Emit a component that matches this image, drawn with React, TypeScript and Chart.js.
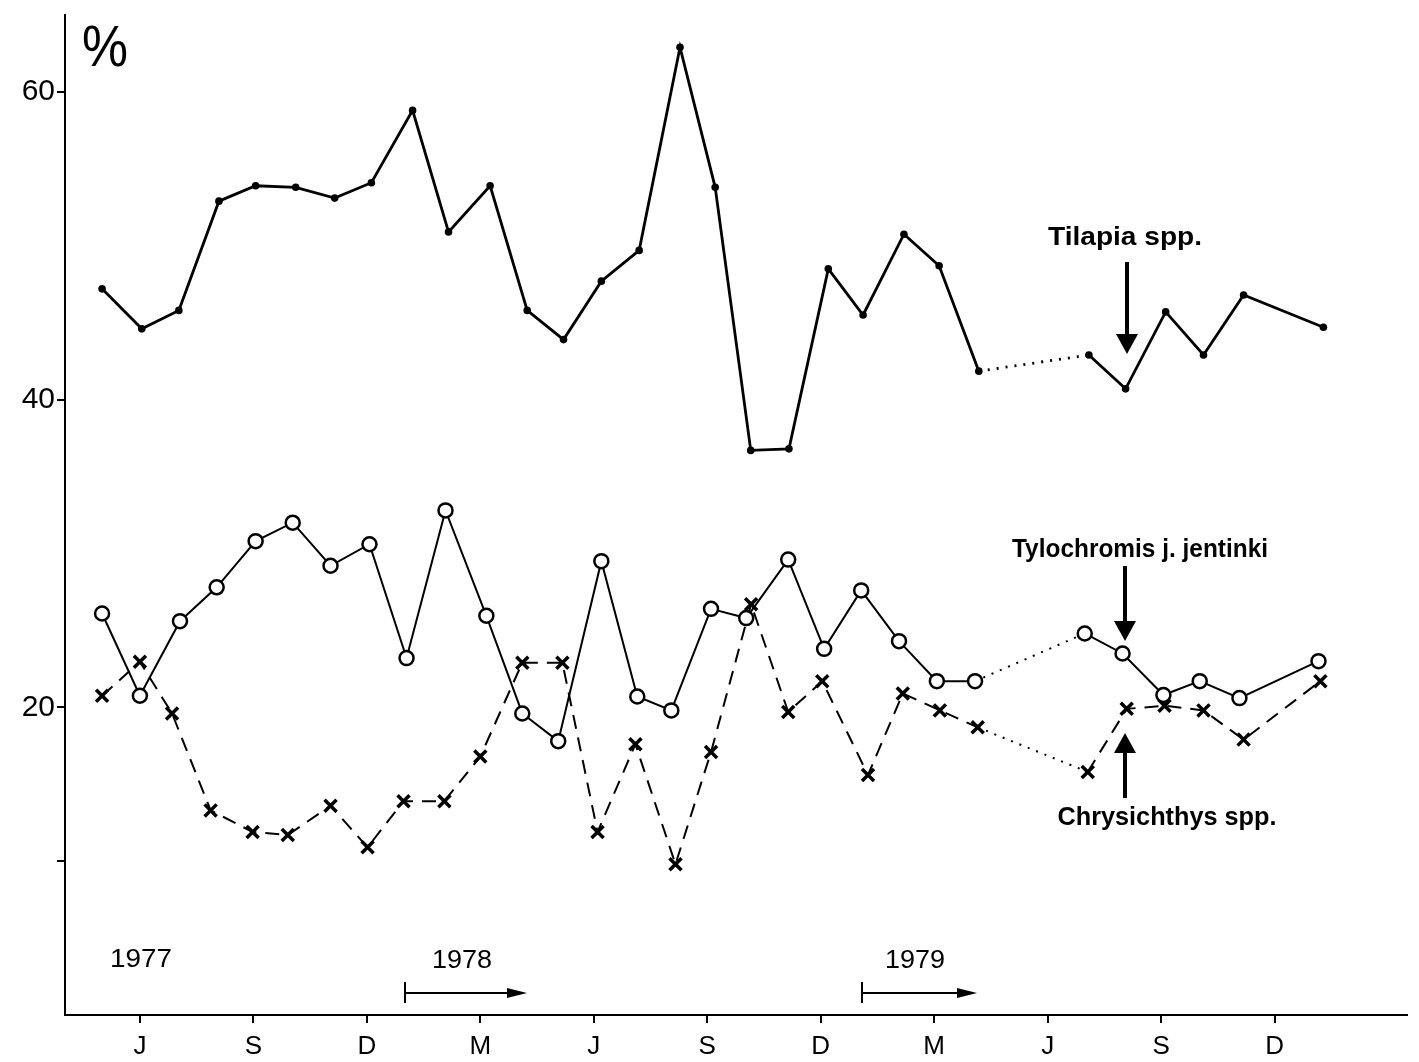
import React, { useEffect, useRef } from "react";
import { Chart, registerables } from "chart.js";

Chart.register(...registerables);

// x values are months counted from July 1977 (0 = July 1977)
const monthTicks = [0, 3, 6, 9, 12, 15, 18, 21, 24, 27, 30];
const monthLabels = ["J", "S", "D", "M", "J", "S", "D", "M", "J", "S", "D"];
const yTickValues = [10, 20, 40, 60];
const yTickLabels = ["", "20", "40", "60"];

const tilapiaX = [-1.0, 0.05, 1.03, 2.09, 3.06, 4.12, 5.15, 6.12, 7.21, 8.16, 9.26, 10.24, 11.2, 12.2, 13.2, 14.28, 15.21, 16.15, 17.16, 18.2, 19.12, 20.2, 21.13, 22.18, 25.09, 26.06, 27.12, 28.12, 29.18, 31.29];
const tilapiaY = [47.2, 44.6, 45.8, 52.9, 53.9, 53.8, 53.1, 54.1, 58.8, 50.9, 53.9, 45.8, 43.9, 47.7, 49.7, 62.9, 53.8, 36.7, 36.8, 48.5, 45.5, 50.75, 48.7, 41.85, 42.9, 40.7, 45.7, 42.9, 46.8, 44.7];

const tyloX = [-1.0, 0, 1.06, 2.03, 3.06, 4.04, 5.04, 6.07, 7.05, 8.08, 9.16, 10.11, 11.06, 12.2, 13.15, 14.05, 15.1, 16.03, 17.14, 18.09, 19.07, 20.07, 21.07, 22.08, 24.98, 25.98, 27.06, 28.02, 29.07, 31.16];
const tyloY = [26.1, 20.75, 25.6, 27.8, 30.8, 32.0, 29.2, 30.6, 23.2, 32.8, 25.95, 19.6, 17.8, 29.5, 20.7, 19.8, 26.4, 25.8, 29.6, 23.8, 27.6, 24.3, 21.7, 21.7, 24.8, 23.5, 20.8, 21.7, 20.6, 23.0];

const chrysX = [-1.0, 0, 0.85, 1.87, 2.98, 3.91, 5.04, 6.02, 6.97, 8.05, 9.0, 10.11, 11.17, 12.1, 13.1, 14.16, 15.1, 16.16, 17.14, 18.04, 19.25, 20.17, 21.15, 22.15, 25.06, 26.09, 27.09, 28.12, 29.18, 31.21];
const chrysY = [20.75, 22.96, 19.6, 13.3, 11.9, 11.7, 13.6, 10.9, 13.9, 13.9, 16.8, 22.9, 22.9, 11.9, 17.6, 9.8, 17.1, 26.7, 19.7, 21.7, 15.6, 20.9, 19.8, 18.7, 15.8, 19.9, 20.1, 19.8, 17.9, 21.7];

// index of the last point before the missing months (joined by a dotted line)
const gapIndex = 23;

const yearLabels = ["1977", "1978", "1979"];
const seriesNames = ["Tilapia spp.", "Tylochromis j. jentinki", "Chrysichthys spp."];

const FONT = "'Liberation Sans', 'DejaVu Sans', sans-serif";

const pts = (xs: number[], ys: number[]) => xs.map((x, i) => ({ x, y: ys[i] }));

export default function App() {
  const ref = useRef<HTMLCanvasElement>(null);

  useEffect(() => {
    document.body.style.margin = "0";
    const canvas = ref.current!;
    const ctx2 = canvas.getContext("2d")!;

    const fitText = (c: CanvasRenderingContext2D, text: string, cx: number, cy: number, w: number) => {
      const m = c.measureText(text).width;
      c.save();
      c.translate(cx, cy);
      c.scale(w / m, 1);
      c.fillText(text, 0, 0);
      c.restore();
    };

    const yearArrow = (c: CanvasRenderingContext2D, x0: number, x1: number, y: number) => {
      c.lineWidth = 2;
      c.beginPath();
      c.moveTo(x0, y - 11);
      c.lineTo(x0, y + 10);
      c.moveTo(x0, y);
      c.lineTo(x1 - 14, y);
      c.stroke();
      c.beginPath();
      c.moveTo(x1, y);
      c.lineTo(x1 - 20, y - 5);
      c.lineTo(x1 - 20, y + 5);
      c.closePath();
      c.fill();
    };

    const bigArrow = (c: CanvasRenderingContext2D, x: number, yStart: number, yTip: number) => {
      const dir = yTip > yStart ? 1 : -1;
      const headLen = 20;
      c.lineWidth = 4;
      c.beginPath();
      c.moveTo(x, yStart);
      c.lineTo(x, yTip - dir * headLen);
      c.stroke();
      c.beginPath();
      c.moveTo(x, yTip);
      c.lineTo(x - 11, yTip - dir * headLen);
      c.lineTo(x + 11, yTip - dir * headLen);
      c.closePath();
      c.fill();
    };

    const annot = {
      id: "annot",
      afterDraw(chart: any) {
        const c: CanvasRenderingContext2D = chart.ctx;
        c.save();
        c.fillStyle = "#000";
        c.strokeStyle = "#000";
        c.textAlign = "center";
        c.textBaseline = "middle";
        c.font = `58px ${FONT}`;
        fitText(c, "%", 105, 50, 46);

        c.font = `26px ${FONT}`;
        fitText(c, yearLabels[0], 141, 960, 62);
        fitText(c, yearLabels[1], 462, 961, 60);
        fitText(c, yearLabels[2], 915, 961, 60);
        yearArrow(c, 405, 527, 993);
        yearArrow(c, 862, 977, 993);

        c.font = `bold 25px ${FONT}`;
        fitText(c, seriesNames[0], 1125, 238, 154);
        fitText(c, seriesNames[1], 1140, 550, 256);
        fitText(c, seriesNames[2], 1167, 818, 219);

        bigArrow(c, 1127, 262, 354);
        bigArrow(c, 1125, 566, 641);
        bigArrow(c, 1125, 798, 733);
        c.restore();
      },
    };

    const dottedGap = (dash: number[] | undefined) => (s: any) =>
      s.p0DataIndex === gapIndex ? [2, 7] : dash;

    const chart = new Chart(ctx2, {
      type: "line",
      data: {
        datasets: [
          {
            label: seriesNames[0],
            data: pts(tilapiaX, tilapiaY),
            borderColor: "#000",
            borderWidth: 2.8,
            pointRadius: 3.8,
            pointBackgroundColor: "#000",
            pointBorderColor: "#000",
            pointBorderWidth: 0,
            tension: 0,
            segment: { borderDash: dottedGap(undefined) },
          },
          {
            label: seriesNames[1],
            data: pts(tyloX, tyloY),
            borderColor: "#000",
            borderWidth: 2,
            pointStyle: "circle",
            pointRadius: 7,
            pointBackgroundColor: "#fff",
            pointBorderColor: "#000",
            pointBorderWidth: 2.5,
            tension: 0,
            segment: { borderDash: dottedGap(undefined) },
          },
          {
            label: seriesNames[2],
            data: pts(chrysX, chrysY),
            borderColor: "#000",
            borderWidth: 2,
            borderDash: [14, 9],
            pointStyle: "crossRot",
            pointRadius: 8.5,
            pointBorderColor: "#000",
            pointBorderWidth: 3.5,
            tension: 0,
            segment: { borderDash: dottedGap([14, 9]) },
          },
        ],
      },
      options: {
        animation: false,
        responsive: false,
        layout: { padding: { top: 15, right: 6, left: 0, bottom: 0 } },
        plugins: { legend: { display: false }, tooltip: { enabled: false } },
        scales: {
          x: {
            type: "linear",
            min: -1.98,
            max: 33.5,
            afterFit: (s: any) => {
              s.height = 47;
              s.paddingLeft = 0;
              s.paddingRight = 0;
            },
            afterBuildTicks: (s: any) => {
              s.ticks = monthTicks.map((v) => ({ value: v }));
            },
            ticks: {
              autoSkip: false,
              maxRotation: 0,
              padding: 8,
              color: "#000",
              font: { size: 26, family: FONT },
              callback: (v: any) => {
                const i = monthTicks.indexOf(Number(v));
                return i >= 0 ? monthLabels[i] : "";
              },
            },
            grid: { display: true, drawOnChartArea: false, drawTicks: true, tickLength: 8, color: "#000", lineWidth: 2 },
            border: { display: true, color: "#000", width: 2 },
          },
          y: {
            type: "linear",
            min: 0,
            max: 65,
            afterFit: (s: any) => {
              s.width = 65;
              s.paddingTop = 0;
              s.paddingBottom = 0;
            },
            afterBuildTicks: (s: any) => {
              s.ticks = yTickValues.map((v) => ({ value: v }));
            },
            ticks: {
              autoSkip: false,
              padding: 2,
              color: "#000",
              font: { size: 30, family: FONT },
              callback: (v: any) => {
                const i = yTickValues.indexOf(Number(v));
                return i >= 0 ? yTickLabels[i] : "";
              },
            },
            grid: { display: true, drawOnChartArea: false, drawTicks: true, tickLength: 8, color: "#000", lineWidth: 2 },
            border: { display: true, color: "#000", width: 2 },
          },
        },
      },
      plugins: [annot],
    } as any);

    return () => chart.destroy();
  }, []);

  return <canvas ref={ref} width={1419} height={1062} style={{ display: "block" }} />;
}
